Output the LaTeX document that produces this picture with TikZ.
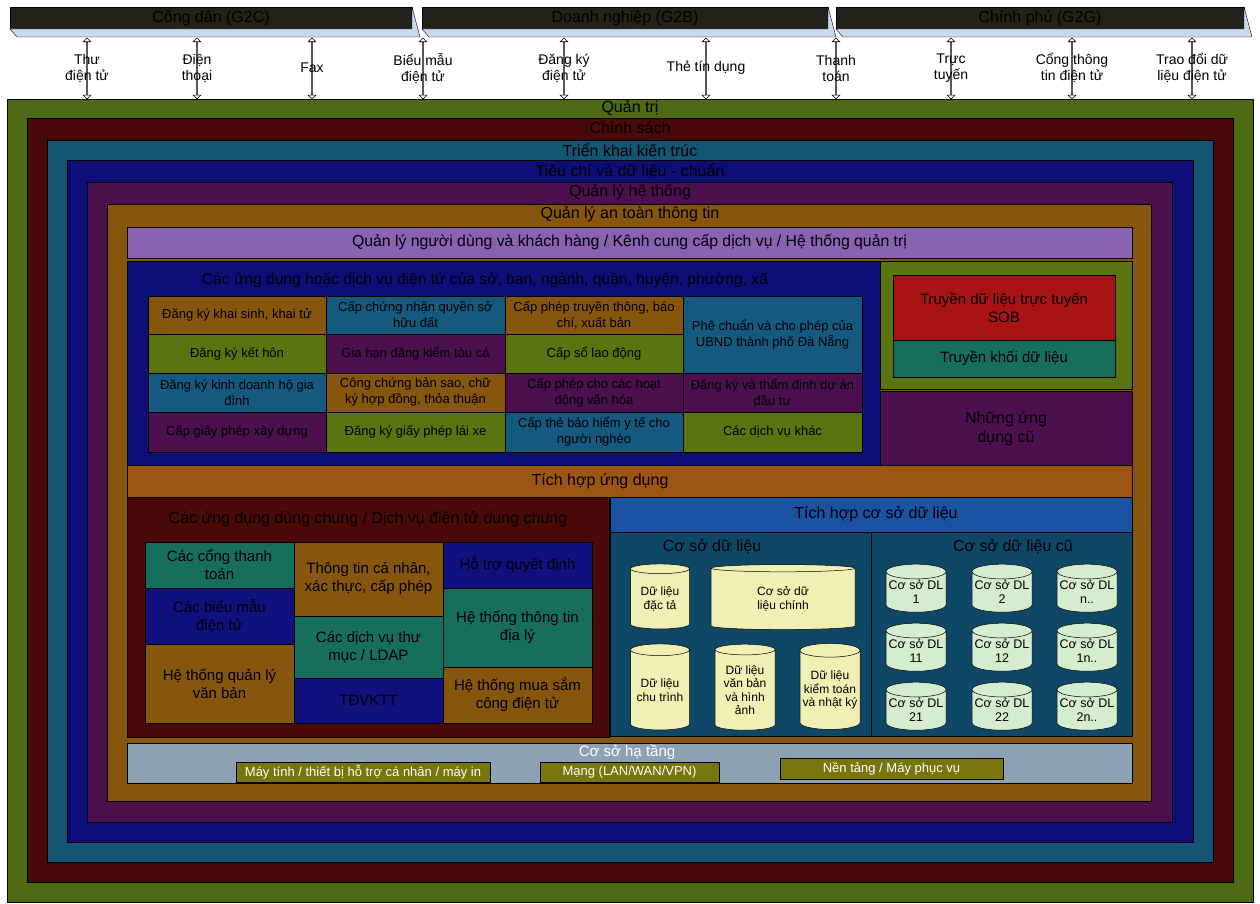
\documentclass[tikz,border=0pt]{standalone}
\usepackage{fontspec}
\setmainfont{Liberation Sans}
\usetikzlibrary{shapes.geometric,shapes.arrows}

\definecolor{qtgreen}{HTML}{4E6A14}
\definecolor{csred}{HTML}{4A0A0A}
\definecolor{tkteal}{HTML}{145573}
\definecolor{tcnavy}{HTML}{0E0E78}
\definecolor{htpurp}{HTML}{4C104F}
\definecolor{atorange}{HTML}{86560F}
\definecolor{lavend}{HTML}{8A62B2}
\definecolor{cellorg}{HTML}{86560F}
\definecolor{cellblu}{HTML}{155A7E}
\definecolor{cellgrn}{HTML}{5A7412}
\definecolor{cellpur}{HTML}{4C104F}
\definecolor{celltea}{HTML}{186E5C}
\definecolor{cellnav}{HTML}{10107E}
\definecolor{sobred}{HTML}{A81414}
\definecolor{intorg}{HTML}{9C5612}
\definecolor{dbblue}{HTML}{1C52A2}
\definecolor{dbpanel}{HTML}{0F4866}
\definecolor{cylyel}{HTML}{F0F0B4}
\definecolor{cylgrn}{HTML}{D6ECCE}
\definecolor{infra}{HTML}{8CA2B2}
\definecolor{infbox}{HTML}{76760C}
\definecolor{bardark}{HTML}{222218}
\definecolor{barlight}{HTML}{C8D8EE}

\begin{document}
\begin{tikzpicture}[x=1pt,y=-1pt,
  lyr/.style={draw=black,line width=0.5pt},
  lyrlbl/.style={font=\fontsize{16}{18}\selectfont},
  cell/.style={draw=black,line width=0.5pt,align=center,inner sep=0pt},
  chan/.style={double arrow,rotate=90,draw=black,fill=white,line width=0.6pt,
    inner sep=0pt,minimum width=5pt,minimum height=61pt,
    double arrow head extend=3.5pt,double arrow head indent=0pt},
  chanlbl/.style={align=center,font=\fontsize{14}{16}\selectfont},
  dbcyl/.style={cylinder,shape border rotate=90,draw=black,line width=0.5pt,
    align=center,inner sep=0pt}]

\useasboundingbox[fill=white] (0,0) rectangle (1260,904);

% khoi doi tuong
\draw[fill=bardark] (10,7) rectangle (412,29);
\draw[fill=barlight] (10,29)--(412,29)--(412,7)--(420,37)--(17,37)--cycle;
\node[lyrlbl] (g2c) at (211,18) {Công dân (G2C)};

\draw[fill=bardark] (422,7) rectangle (828,29);
\draw[fill=barlight] (422,29)--(828,29)--(828,7)--(836,37)--(429,37)--cycle;
\node[lyrlbl] (g2b) at (625,18) {Doanh nghiệp (G2B)};

\draw[fill=bardark] (836,7) rectangle (1244,29);
\draw[fill=barlight] (836,29)--(1244,29)--(1244,7)--(1252,37)--(843,37)--cycle;
\node[lyrlbl] (g2g) at (1040,18) {Chính phủ (G2G)};

% kenh
\foreach \n/\x/\t in {thu/87/{Thư\\điện tử},dthoai/197/{Điện\\thoại},fax/312/{Fax},
  bieumau/423/{Biểu mẫu\\điện tử},dangky/564/{Đăng ký\\điện tử},the/706/{Thẻ tín dụng},
  ttoan/836/{Thanh\\toán},tructuyen/951/{Trực\\tuyến},cong/1072/{Cổng thông\\tin điện tử},
  trao/1192/{Trao đổi dữ\\liệu điện tử}}{
  \node[chan] (\n-arr) at (\x,68.5) {};
  \node[chanlbl] (\n) at (\x,68) {\t};
}

% cac lop
\draw[lyr,fill=qtgreen] (7,99) rectangle (1253,902);
\node[lyrlbl] (quantri) at (630,108) {Quản trị};
\draw[lyr,fill=csred] (27,118) rectangle (1233,882);
\node[lyrlbl] (chinhsach) at (630,128) {Chính sách};
\draw[lyr,fill=tkteal] (47,140) rectangle (1213,862);
\node[lyrlbl] (trienkhai) at (630,150) {Triển khai kiến trúc};
\draw[lyr,fill=tcnavy] (67,160) rectangle (1193,842);
\node[lyrlbl] (tieuchi) at (630,171) {Tiêu chí và dữ liệu - chuẩn};
\draw[lyr,fill=htpurp] (87,182) rectangle (1172,822);
\node[lyrlbl] (hethong) at (630,192) {Quản lý hệ thống};
\draw[lyr,fill=atorange] (107,204) rectangle (1151,801);
\node[lyrlbl] (antoan) at (630,214) {Quản lý an toàn thông tin};

\node[cell,fill=lavend,minimum width=1005pt,minimum height=31pt,font=\fontsize{15.8}{18}\selectfont]
  (nguoidung) at (629.5,242.5) {Quản lý người dùng và khách hàng / Kênh cung cấp dịch vụ / Hệ thống quản trị};

% ung dung cua so ban nganh
\node[cell,fill=tcnavy,minimum width=753pt,minimum height=204pt] (ungdung) at (503.5,363) {};
\node[lyrlbl,font=\fontsize{15.6}{18}\selectfont] (ungdunglbl) at (485,280) {Các ứng dụng hoặc dịch vụ điện tử của sở, ban, ngành, quận, huyện, phường, xã};
\foreach \n/\cx/\cy/\w/\h/\c/\t in {
  dksinh/237/315/178/38/cellorg/{Đăng ký khai sinh, khai tử},
  kethon/237/353.5/178/39/cellgrn/{Đăng ký kết hôn},
  dkkd/237/392.5/178/39/cellblu/{Đăng ký kinh doanh hộ gia\\đình},
  gpxd/237/432/178/40/cellpur/{Cấp giấy phép xây dựng},
  qsdat/415.5/315/179/38/cellblu/{Cấp chứng nhận quyền sở\\hữu đất},
  tauca/415.5/353.5/179/39/cellpur/{Gia hạn đăng kiểm tàu cá},
  congchung/415.5/392.5/179/39/cellorg/{Công chứng bản sao, chữ\\ký hợp đồng, thỏa thuận},
  laixe/415.5/432/179/40/cellgrn/{Đăng ký giấy phép lái xe},
  baochi/594/315/178/38/cellorg/{Cấp phép truyền thông, báo\\chí, xuất bản},
  laodong/594/353.5/178/39/cellgrn/{Cấp sổ lao động},
  vanhoa/594/392.5/178/39/cellpur/{Cấp phép cho các hoạt\\động văn hóa},
  bhyt/594/432/178/40/cellblu/{Cấp thẻ bảo hiểm y tế cho\\người nghèo},
  ubnd/772.5/334.5/179/77/cellblu/{Phê chuẩn và cho phép của\\UBND thành phố Đà Nẵng},
  duan/772.5/392.5/179/39/cellpur/{Đăng ký và thẩm định dự án\\đầu tư},
  khac/772.5/432/179/40/cellgrn/{Các dịch vụ khác}}{
  \node[cell,fill=\c,minimum width=\w pt,minimum height=\h pt,
    font=\fontsize{13}{16}\selectfont] (\n) at (\cx,\cy) {\t};
}

% truyen du lieu
\node[cell,fill=cellgrn,minimum width=252pt,minimum height=128pt] (truyen) at (1006,325) {};
\node[cell,fill=sobred,minimum width=222pt,minimum height=65pt,
  font=\fontsize{15}{18}\selectfont] (sob) at (1004,307.5) {Truyền dữ liệu trực tuyến\\SOB};
\node[cell,fill=celltea,minimum width=222pt,minimum height=37pt,
  font=\fontsize{15}{18}\selectfont] (khoi) at (1004,358.5) {Truyền khối dữ liệu};
\node[cell,fill=cellpur,minimum width=252pt,minimum height=76pt,
  font=\fontsize{16}{19}\selectfont] (ungdungcu) at (1006,429) {Những ứng\\dụng cũ};

\node[cell,fill=intorg,minimum width=1005pt,minimum height=32pt] (tichhop) at (629.5,481) {};
\node[lyrlbl] (tichhoplbl) at (600,481) {Tích hợp ứng dụng};

% ung dung dung chung
\node[cell,fill=csred,minimum width=482pt,minimum height=240pt] (dungchung) at (368,617) {};
\node[lyrlbl] (dungchunglbl) at (368,519) {Các ứng dụng dùng chung / Dịch vụ điện tử dùng chung};
\foreach \n/\cx/\cy/\w/\h/\c/\t in {
  congtt/219.5/565/149/46/celltea/{Các cổng thanh\\toán},
  bieumaudt/219.5/616/149/56/cellnav/{Các biểu mẫu\\điện tử},
  qlvb/219.5/683.5/149/79/cellorg/{Hệ thống quản lý\\văn bản},
  ttcn/368.5/579/149/74/cellorg/{Thông tin cá nhân,\\xác thực, cấp phép},
  ldap/368.5/647/149/62/celltea/{Các dịch vụ thư\\mục / LDAP},
  tdv/368.5/700.5/149/45/cellnav/{TĐVKTT},
  hotro/517.5/565/149/46/cellnav/{Hỗ trợ quyết định},
  gis/517.5/627.5/149/79/celltea/{Hệ thống thông tin\\địa lý},
  muasam/517.5/695/149/56/cellorg/{Hệ thống mua sắm\\công điện tử}}{
  \node[cell,fill=\c,minimum width=\w pt,minimum height=\h pt,
    font=\fontsize{15}{18}\selectfont] (\n) at (\cx,\cy) {\t};
}

% co so du lieu
\node[cell,fill=dbblue,minimum width=522pt,minimum height=35pt] (tichhopdb) at (871,514.5) {};
\node[lyrlbl] (tichhopdblbl) at (876,514) {Tích hợp cơ sở dữ liệu};
\node[cell,fill=dbpanel,minimum width=261pt,minimum height=204pt] (csdl) at (740.5,634) {};
\node[lyrlbl] (csdllbl) at (712,547) {Cơ sở dữ liệu};
\node[cell,fill=dbpanel,minimum width=261pt,minimum height=204pt] (csdlcu) at (1001.5,634) {};
\node[lyrlbl] (csdlculbl) at (1013,547) {Cơ sở dữ liệu cũ};

\foreach \n/\cx/\cy/\w/\h/\a/\t in {
  dactac/660/599/59/65/0.25/{Dữ liệu\\đặc tả},
  chinh/783/599/144/65/0.14/{Cơ sở dữ\\liệu chính},
  chutrinh/660/690/59/86/0.25/{Dữ liệu\\chu trình},
  vanban/745/690/60/86/0.25/{Dữ liệu\\văn bản\\và hình\\ảnh},
  kiemtoan/830/690/60/86/0.25/{Dữ liệu\\kiểm toán\\và nhật ký}}{
  \node[dbcyl,fill=cylyel,aspect=\a,minimum width=\w pt,minimum height=\h pt,
    font=\fontsize{12}{13.5}\selectfont] (\n) at (\cx,\cy) {\t};
}
\foreach \n/\cx/\cy/\t in {
  cu1/916/592/1,cu2/1002/592/2,cun/1087/592/n..,
  cu11/916/651/11,cu12/1002/651/12,cu1n/1087/651/1n..,
  cu21/916/710/21,cu22/1002/710/22,cu2n/1087/710/2n..}{
  \node[dbcyl,fill=cylgrn,aspect=0.27,minimum width=60pt,minimum height=48pt,
    font=\fontsize{12.5}{14}\selectfont] (\n) at (\cx,\cy) {Cơ sở DL\\\t};
}

% ha tang
\node[cell,fill=infra,minimum width=1005pt,minimum height=40pt] (hatang) at (629.5,763) {};
\node[lyrlbl,text=white,font=\fontsize{15}{17}\selectfont] (hatanglbl) at (627,752) {Cơ sở hạ tầng};
\node[cell,fill=infbox,text=white,minimum width=254pt,minimum height=20pt,
  font=\fontsize{13}{15}\selectfont] (maytinh) at (363,772) {Máy tính / thiết bị hỗ trợ cá nhân / máy in};
\node[cell,fill=infbox,text=white,minimum width=179pt,minimum height=20pt,
  font=\fontsize{13}{15}\selectfont] (mang) at (629.5,772) {Mạng (LAN/WAN/VPN)};
\node[cell,fill=infbox,text=white,minimum width=223pt,minimum height=21pt,
  font=\fontsize{13}{15}\selectfont] (nentang) at (891.5,768.5) {Nền tảng / Máy phục vụ};

\end{tikzpicture}
\end{document}
